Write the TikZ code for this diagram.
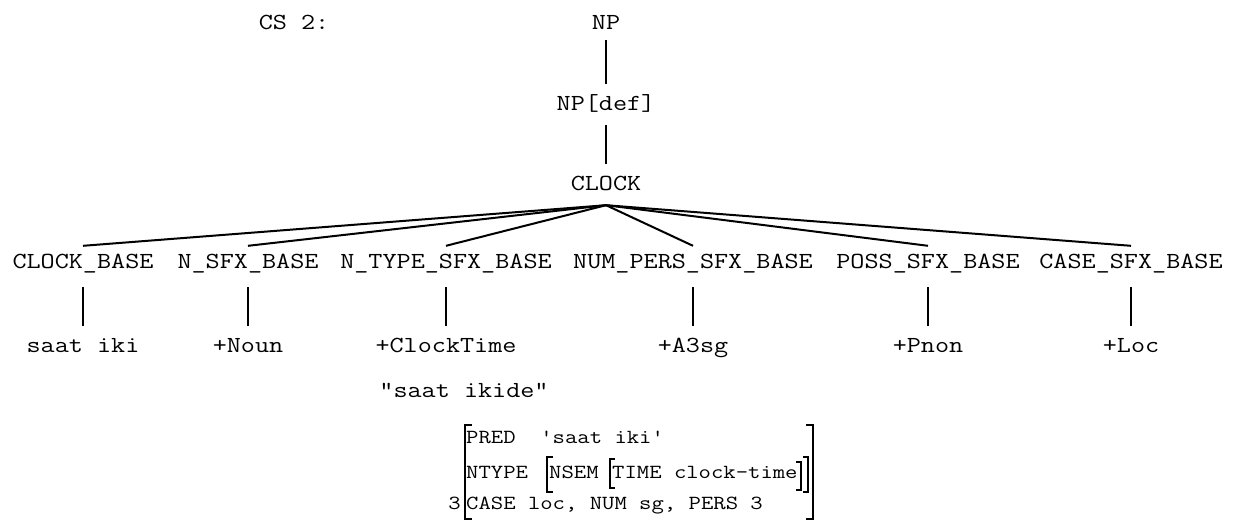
\documentclass[tikz,border=0pt]{standalone}
\usepackage{fontspec}
\usepackage{graphicx}
\newcommand\treefont{\ttfamily\fontsize{23}{27}\selectfont}
\newcommand\fsfont{\ttfamily\fontsize{20}{24}\selectfont}
\newcommand\T[1]{\scalebox{1.19}[1]{#1}}
\newcommand\F[1]{\scalebox{1.2}[1]{#1}}
\begin{document}
\begin{tikzpicture}[x=1pt,y=-1pt,
  tn/.style={font=\treefont, inner xsep=0pt, inner ysep=0pt, text height=26pt, text depth=15pt, anchor=base},
  ch/.style={tn, text height=22pt, text depth=19pt},
  fs/.style={font=\fsfont, inner sep=0pt, anchor=base west},
  edge/.style={line width=2pt},
  br/.style={line width=1.3pt}]
\useasboundingbox (0,0) rectangle (1239,520);
% top
\node[tn] (cs) at (294,29) {\T{CS 2:}};
\node[tn, text depth=11pt] (np) at (606,29) {\T{NP}};
\node[tn] (npdef) at (606,110) {\T{NP[def]}};
\node[tn] (clock) at (606,190) {\T{CLOCK}};
% children
\node[ch] (c1) at (83,268) {\T{CLOCK\_BASE}};
\node[ch] (c2) at (248,268) {\T{N\_SFX\_BASE}};
\node[ch] (c3) at (446,268) {\T{N\_TYPE\_SFX\_BASE}};
\node[ch] (c4) at (693,268) {\T{NUM\_PERS\_SFX\_BASE}};
\node[ch] (c5) at (928,268) {\T{POSS\_SFX\_BASE}};
\node[ch] (c6) at (1131,268) {\T{CASE\_SFX\_BASE}};
% leaves
\node[tn] (l1) at (83,352) {\T{saat iki}};
\node[tn] (l2) at (248,352) {\T{+Noun}};
\node[tn] (l3) at (446,352) {\T{+ClockTime}};
\node[tn] (l4) at (693,352) {\T{+A3sg}};
\node[tn] (l5) at (928,352) {\T{+Pnon}};
\node[tn] (l6) at (1131,352) {\T{+Loc}};
\node[tn] (gloss) at (464,397) {\T{"saat ikide"}};
% edges
\draw[edge] (np.south) -- (npdef.north);
\draw[edge] (npdef.south) -- (clock.north);
\foreach \i in {1,...,6} {
  \draw[edge] (clock.south) -- (c\i.north);
  \draw[edge] (c\i.south) -- (l\i.north);
}
% feature structure
\node[fs] (pred) at (466,443) {\F{PRED~~'saat iki'}};
\node[fs] (ntype) at (466,478) {\F{NTYPE}};
\node[fs] (nsem) at (549,478) {\F{NSEM}};
\node[fs] (time) at (612,478) {\F{TIME clock-time}};
\node[fs] (casel) at (466,509) {\F{CASE loc, NUM sg, PERS 3}};
\node[fs, anchor=base east] (three) at (461,509) {\F{3}};
\draw[br] (472,425) -- (465,425) -- (465,519) -- (472,519);
\draw[br] (806,425) -- (813,425) -- (813,519) -- (806,519);
\draw[br] (553,457) -- (547,457) -- (547,492) -- (553,492);
\draw[br] (803,457) -- (808,457) -- (808,492) -- (803,492);
\draw[br] (615,459) -- (610,459) -- (610,488) -- (615,488);
\draw[br] (796,462) -- (801,462) -- (801,490) -- (796,490);
\end{tikzpicture}
\end{document}
